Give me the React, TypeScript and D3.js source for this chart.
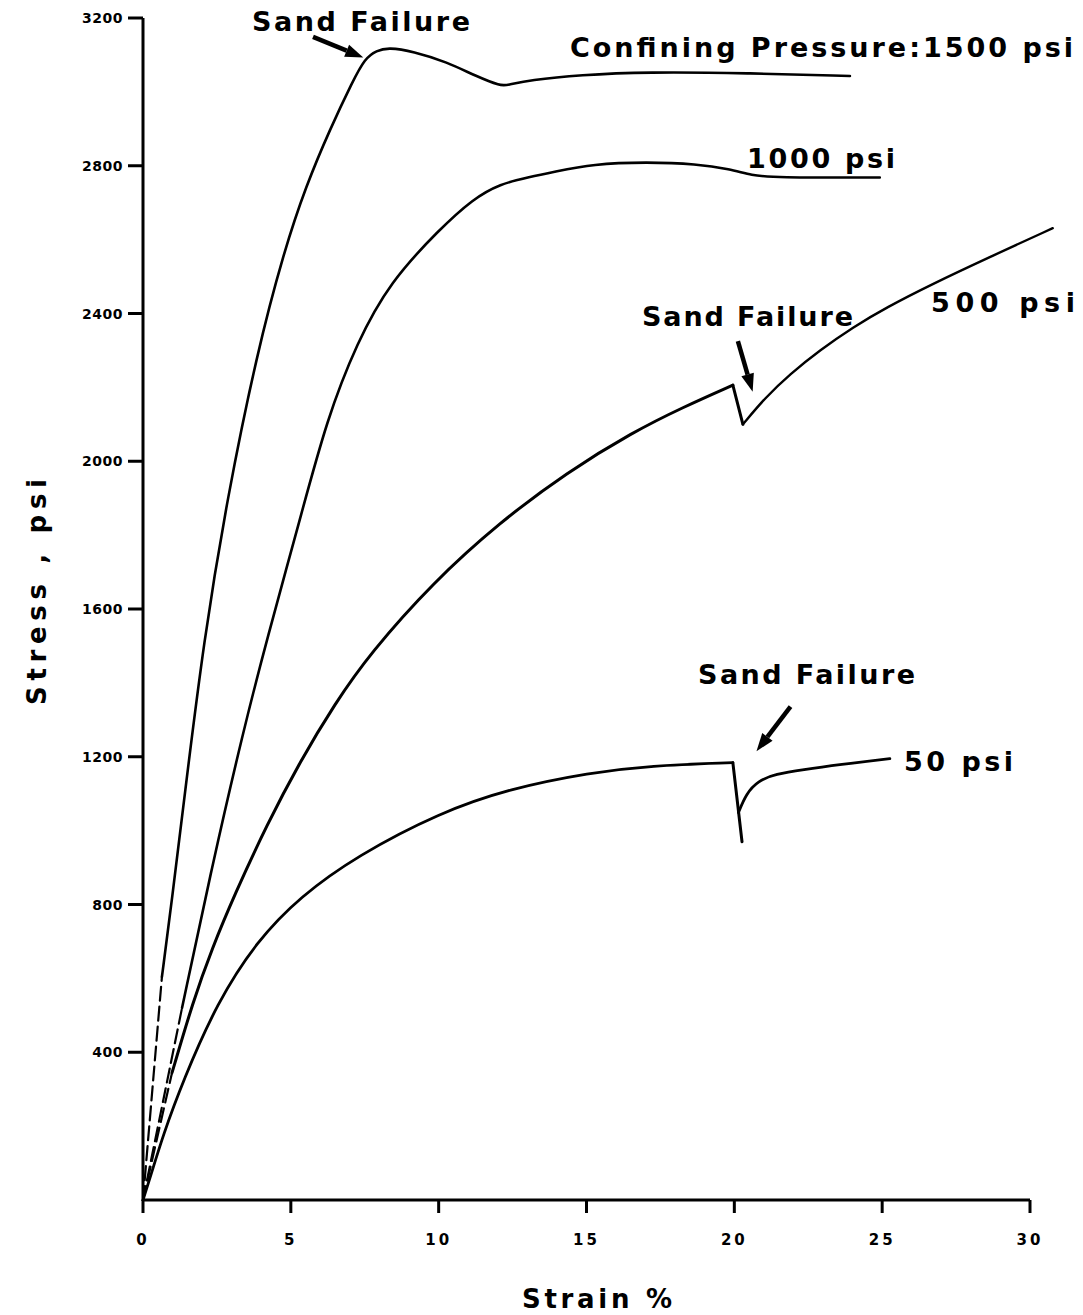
import React from 'react';
import * as d3 from 'd3';

type Pt = [number, number];

// axis ticks
const xTicks = [0, 5, 10, 15, 20, 25, 30];
const yTicks = [400, 800, 1200, 1600, 2000, 2400, 2800, 3200];

// strain %, stress psi
const dash1500: Pt[] = [[0, 0], [0.64, 604]];
const curve1500: Pt[] = [
  [0.64, 604], [0.98, 813], [1.39, 1084], [2.06, 1518], [2.84, 1897], [3.86, 2295],
  [4.76, 2566], [5.51, 2745], [6.33, 2900], [7.1, 3030], [7.5, 3090], [7.9, 3112],
  [8.3, 3120], [9.13, 3110], [10.28, 3081], [11.3, 3041], [12.1, 3016], [12.3, 3018],
  [13.09, 3032], [14.78, 3046], [17.04, 3054], [20.43, 3051], [23.91, 3043],
];

const dash1000: Pt[] = [[0, 0], [1.32, 520]];
const curve1000: Pt[] = [
  [1.32, 520], [2.33, 902], [3.38, 1266], [4.19, 1518], [5.31, 1843], [6.22, 2114],
  [7.24, 2322], [8.35, 2485], [10.04, 2629], [11.16, 2710], [12.07, 2751], [13.09, 2770],
  [13.87, 2783], [15.22, 2805], [17.04, 2810], [18.73, 2805], [19.85, 2791], [20.6, 2774],
  [21.3, 2768], [24.92, 2768],
];

const dash500: Pt[] = [[0, 0], [0.98, 344]];
const rise500: Pt[] = [
  [0.98, 344], [1.69, 537], [2.33, 680], [3.11, 829], [4.19, 1016], [5.31, 1187],
  [6.49, 1344], [7.68, 1480], [9.81, 1672], [12.07, 1835], [14.34, 1970], [16.57, 2079],
  [18.26, 2146], [19.95, 2206],
];
const drop500: Pt[] = [[19.95, 2206], [20.29, 2100]];
const after500: Pt[] = [
  [20.29, 2100], [21.03, 2171], [21.88, 2236], [22.9, 2301], [24.01, 2363], [25.16, 2417],
  [26.62, 2477], [28.64, 2553], [30.77, 2631],
];

const rise50: Pt[] = [
  [0, 0], [0.24, 60], [0.68, 176], [1.35, 322], [2.5, 534], [3.86, 702], [5.31, 821],
  [7.24, 932], [10.04, 1049], [12.41, 1114], [15.12, 1157], [17.15, 1176], [19.95, 1184],
];
const drop50: Pt[] = [[19.95, 1184], [20.26, 970]];
const after50: Pt[] = [
  [20.14, 1049], [20.4, 1100], [20.8, 1135], [21.4, 1153], [22.3, 1165], [23.57, 1179],
  [25.26, 1195],
];

const W = 1083;
const H = 1315;
const font = "'DejaVu Sans', sans-serif";

const x = d3.scaleLinear().domain([0, 30]).range([143, 1030]);
const y = d3.scaleLinear().domain([0, 3200]).range([1200, 18]);

const smooth = d3.line<Pt>().x(d => x(d[0])).y(d => y(d[1])).curve(d3.curveBasis);
const straight = d3.line<Pt>().x(d => x(d[0])).y(d => y(d[1]));

// annotation text: [text, left px, baseline px, width px]
const labels: [string, number, number, number][] = [
  ['Sand Failure', 252, 31, 218],
  ['Confining Pressure:1500 psi', 570, 57, 503],
  ['1000 psi', 747, 168, 148],
  ['Sand Failure', 642, 326, 211],
  ['500 psi', 931, 312, 144],
  ['Sand Failure', 698, 684, 217],
  ['50 psi', 904, 771, 109],
];

// arrows: from [strain, stress] to [strain, stress]
const arrows: [Pt, Pt][] = [
  [[5.75, 3149], [7.45, 3093]],
  [[20.12, 2325], [20.62, 2188]],
  [[21.9, 1336], [20.75, 1215]],
];

function Arrow({ from, to }: { from: Pt; to: Pt }) {
  const x1 = x(from[0]), y1 = y(from[1]);
  const x2 = x(to[0]), y2 = y(to[1]);
  const a = Math.atan2(y2 - y1, x2 - x1);
  const len = 18, half = 6.5;
  const bx = x2 - len * Math.cos(a), by = y2 - len * Math.sin(a);
  const px = -Math.sin(a) * half, py = Math.cos(a) * half;
  return (
    <g>
      <line x1={x1} y1={y1} x2={bx} y2={by} stroke="#000" strokeWidth={4.5} />
      <polygon points={`${x2},${y2} ${bx + px},${by + py} ${bx - px},${by - py}`} fill="#000" />
    </g>
  );
}

export default function App() {
  return (
    <svg width={W} height={H} style={{ position: 'absolute', left: 0, top: 0, background: '#fff' }}>
      <rect width={W} height={H} fill="#fff" />

      {/* axes */}
      <line x1={x(0)} y1={y(0) + 1} x2={x(0)} y2={y(3200)} stroke="#000" strokeWidth={3} />
      <line x1={x(0)} y1={y(0)} x2={x(30)} y2={y(0)} stroke="#000" strokeWidth={3} />
      {yTicks.map(t => (
        <g key={t}>
          <line x1={x(0) - 15} x2={x(0)} y1={y(t)} y2={y(t)} stroke="#000" strokeWidth={3} />
          <text x={x(0) - 20} y={y(t)} dy="0.36em" textAnchor="end" fontFamily={font}
            fontWeight="bold" fontSize={14} letterSpacing={0.5}>{t}</text>
        </g>
      ))}
      {xTicks.map(t => (
        <g key={t}>
          <line x1={x(t)} x2={x(t)} y1={y(0)} y2={y(0) + 13} stroke="#000" strokeWidth={3} />
          <text x={x(t)} y={1245} textAnchor="middle" fontFamily={font}
            fontWeight="bold" fontSize={15} letterSpacing={3}>{t}</text>
        </g>
      ))}
      <text x={597} y={1308} textAnchor="middle" fontFamily={font} fontWeight="bold"
        fontSize={26} textLength={150} lengthAdjust="spacing">Strain %</text>
      <text transform="translate(46,592) rotate(-90)" textAnchor="middle" fontFamily={font}
        fontWeight="bold" fontSize={26} textLength={226} lengthAdjust="spacing">Stress , psi</text>

      {/* curves */}
      <g fill="none" stroke="#000" strokeLinecap="round" strokeLinejoin="round">
        <path d={straight(dash1500)!} strokeWidth={2.2} strokeDasharray="14 6" />
        <path d={straight(dash1000)!} strokeWidth={2.2} strokeDasharray="14 6" />
        <path d={straight(dash500)!} strokeWidth={2.2} strokeDasharray="14 6" />
        <path d={smooth(curve1500)!} strokeWidth={2.6} />
        <path d={smooth(curve1000)!} strokeWidth={2.6} />
        <path d={smooth(rise500)!} strokeWidth={3} />
        <path d={straight(drop500)!} strokeWidth={3} />
        <path d={smooth(after500)!} strokeWidth={2.4} />
        <path d={smooth(rise50)!} strokeWidth={2.8} />
        <path d={straight(drop50)!} strokeWidth={3} />
        <path d={smooth(after50)!} strokeWidth={2.8} />
      </g>

      {arrows.map((a, i) => <Arrow key={i} from={a[0]} to={a[1]} />)}

      {labels.map((l, i) => (
        <text key={i} x={l[1]} y={l[2]} fontFamily={font} fontWeight="bold" fontSize={27}
          textLength={l[3]} lengthAdjust="spacing">{l[0]}</text>
      ))}
    </svg>
  );
}
